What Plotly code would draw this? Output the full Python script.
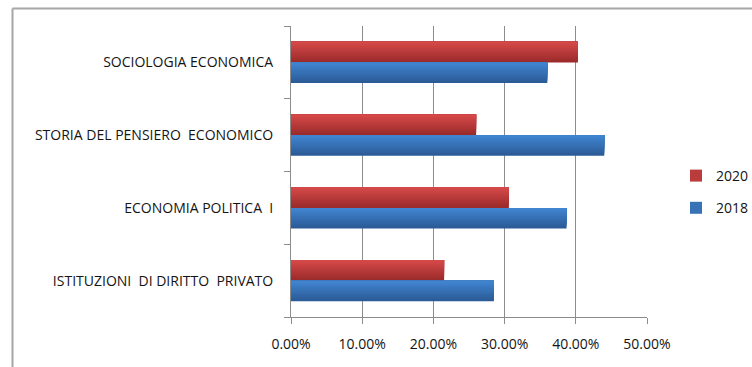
import plotly.graph_objects as go

# Courses (bottom to top as plotly lays out categories)
courses = [
    "ISTITUZIONI\u00a0\u00a0DI DIRITTO\u00a0\u00a0PRIVATO",
    "ECONOMIA POLITICA\u00a0\u00a0I",
    "STORIA DEL PENSIERO\u00a0\u00a0ECONOMICO",
    "SOCIOLOGIA ECONOMICA",
]
share_2020 = [0.215, 0.306, 0.260, 0.403]
share_2018 = [0.285, 0.387, 0.440, 0.360]

x_ticks = [0, 0.1, 0.2, 0.3, 0.4, 0.5]

W, H = 752, 367
ML, MR, MT, MB = 291, 105, 26, 50
PW, PH = W - ML - MR, H - MT - MB

BAR_W = 0.282  # bar thickness in category units
N_SLICES = 10


def blend(c1, c2, t):
    return "rgb({},{},{})".format(*[round(a + (b - a) * t) for a, b in zip(c1, c2)])


series = [
    ("2020", share_2020, (212, 72, 72), (156, 44, 44), 0.0),
    ("2018", share_2018, (64, 132, 208), (44, 92, 152), -BAR_W),
]

fig = go.Figure()
for name, vals, top_c, bot_c, base_off in series:
    # layered bands: each one runs from its start up to the top edge,
    # darker at the bottom, lighter towards the top
    for i in range(N_SLICES):
        t = 1 - i / (N_SLICES - 1)
        start = base_off + i * BAR_W / N_SLICES
        fig.add_trace(go.Bar(
            y=courses, x=vals, orientation="h",
            offset=start,
            width=base_off + BAR_W - start,
            marker=dict(color=blend(top_c, bot_c, t), line=dict(width=0)),
            name=name, legendgroup=name,
            showlegend=(i == N_SLICES // 2),
            hoverinfo="skip" if i else "x+y+name",
        ))


def px_x(p):
    return (p - ML) / PW


def px_y(p):
    return (H - MB - p) / PH


# light outer frame
frame = dict(type="line", xref="paper", yref="paper",
             line=dict(color="#a6a6a6", width=2), layer="below")
fig.add_shape(x0=px_x(12.5), x1=px_x(760), y0=px_y(8.5), y1=px_y(8.5), **frame)
fig.add_shape(x0=px_x(12.5), x1=px_x(12.5), y0=px_y(8.5), y1=px_y(380), **frame)

fig.update_layout(
    width=W, height=H,
    margin=dict(l=ML, r=MR, t=MT, b=MB, pad=0, autoexpand=False),
    barmode="overlay",
    paper_bgcolor="white", plot_bgcolor="white",
    font=dict(family="'Open Sans', sans-serif", size=14, color="#141414"),
    showlegend=True,
    legend=dict(x=px_x(676), y=px_y(160), xanchor="left", yanchor="top",
                traceorder="grouped", font=dict(size=14),
                itemwidth=30, tracegroupgap=11, bgcolor="rgba(0,0,0,0)"),
    xaxis=dict(
        range=[0, 0.5], tickvals=x_ticks, tickformat=".2%",
        showgrid=True, gridcolor="#8c8c8c", gridwidth=1,
        showline=True, linecolor="#8c8c8c", linewidth=1,
        ticks="outside", ticklen=6, tickcolor="#8c8c8c",
        ticklabelstandoff=8,
        zeroline=False, fixedrange=True,
    ),
    yaxis=dict(
        categoryorder="array", categoryarray=courses,
        showline=True, linecolor="#8c8c8c", linewidth=1,
        ticks="outside", ticklen=6, tickcolor="#8c8c8c",
        tickson="boundaries", ticklabelstandoff=14,
        showgrid=False, fixedrange=True,
    ),
)

fig.write_html("out.html")
